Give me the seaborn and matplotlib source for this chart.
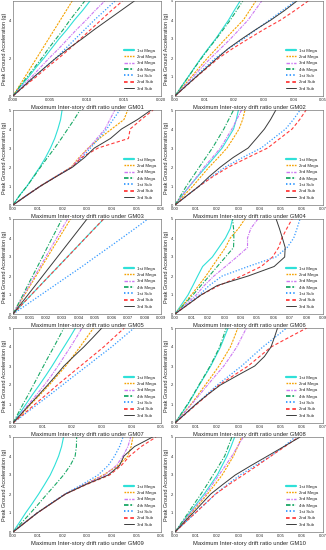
import numpy as np
import pandas as pd
import matplotlib
matplotlib.use("Agg")
import matplotlib.pyplot as plt
import seaborn as sns
from matplotlib.lines import Line2D
from matplotlib.ticker import FormatStrFormatter

# PGA levels (g)
pga = [0, 0.5, 1, 1.5, 2, 2.5, 3, 3.5, 4, 4.5, 5]

series = ["1st Mega", "2nd Mega", "3rd Mega", "4th Mega", "1st Sub", "2nd Sub", "3rd Sub"]

# max inter-story drift ratio, one list per series, for each ground motion
gm01 = {
    "1st Mega": [0, .0010, .0021, .0031, .0042, .0052, .0062, .0073, .0083, .0094, .0104],
    "2nd Mega": [0, .0008, .0016, .0024, .0032, .0040, .0048, .0056, .0064, .0072, .0080],
    "3rd Mega": [0, .0012, .0025, .0037, .0049, .0062, .0074, .0086, .0099, .0111, .0124],
    "4th Mega": [0, .0009, .0019, .0029, .0039, .0048, .0058, .0068, .0077, .0087, .0097],
    "1st Sub": [0, .0014, .0029, .0043, .0058, .0071, .0084, .0097, .0110, .0124, .0138],
    "2nd Sub": [0, .0015, .0031, .0046, .0062, .0077, .0091, .0105, .0119, .0133, .0148],
    "3rd Sub": [0, .0014, .0028, .0043, .0058, .0075, .0093, .0110, .0128, .0146, .0164],
}
gm02 = {
    "1st Mega": [0, .0022, .0044, .0066, .0088, .0112, .0137, .0159, .0181, .0200, .0220],
    "2nd Mega": [0, .0027, .0055, .0082, .0110, .0140, .0170, .0200, .0231, .0252, .0273],
    "3rd Mega": [0, .0030, .0060, .0090, .0121, .0154, .0187, .0217, .0247, .0270, .0293],
    "4th Mega": [0, .0022, .0045, .0067, .0090, .0114, .0139, .0163, .0187, .0208, .0229],
    "1st Sub": [0, .0034, .0068, .0102, .0137, .0182, .0231, .0275, .0319, .0363, .0407],
    "2nd Sub": [0, .0036, .0072, .0110, .0148, .0195, .0247, .0300, .0357, .0405, .0450],
    "3rd Sub": [0, .0035, .0071, .0107, .0143, .0180, .0225, .0273, .0324, .0370, .0412],
}
gm03 = {
    "1st Mega": [0, .0026, .0057, .0083, .0109, .0132, .0152, .0169, .0182, .0193, .0199],
    "2nd Mega": [0, .0055, .0111, .0174, .0236, .0268, .0305, .0350, .0400, .0450, .0465],
    "3rd Mega": [0, .0055, .0111, .0174, .0238, .0272, .0307, .0340, .0373, .0393, .0413],
    "4th Mega": [0, .0027, .0057, .0085, .0112, .0140, .0169, .0196, .0222, .0248, .0272],
    "1st Sub": [0, .0055, .0111, .0174, .0240, .0281, .0314, .0347, .0380, .0406, .0433],
    "2nd Sub": [0, .0055, .0112, .0175, .0240, .0278, .0345, .0468, .0475, .0520, .0568],
    "3rd Sub": [0, .0055, .0112, .0176, .0242, .0290, .0330, .0395, .0440, .0505, .0560],
}
gm04 = {
    "1st Mega": [0, .0034, .0069, .0107, .0146, .0185, .0223, .0250, .0277, .0290, .0300],
    "2nd Mega": [0, .0042, .0085, .0123, .0162, .0205, .0246, .0275, .0303, .0320, .0331],
    "3rd Mega": [0, .0034, .0069, .0104, .0138, .0177, .0215, .0242, .0269, .0292, .0315],
    "4th Mega": [0, .0027, .0054, .0085, .0115, .0146, .0177, .0204, .0231, .0254, .0277],
    "1st Sub": [0, .0057, .0115, .0175, .0238, .0320, .0408, .0465, .0523, .0560, .0592],
    "2nd Sub": [0, .0057, .0115, .0180, .0254, .0345, .0438, .0496, .0554, .0590, .0620],
    "3rd Sub": [0, .0057, .0115, .0162, .0215, .0275, .0346, .0385, .0423, .0452, .0477],
}
gm05 = {
    "1st Mega": [0, .00055, .00110, .00165, .00220, .00275, .00330, .00385, .00440, .00495, .00552],
    "2nd Mega": [0, .00035, .00070, .00105, .00140, .00175, .00210, .00245, .00280, .00315, .00350],
    "3rd Mega": [0, .00033, .00066, .00099, .00132, .00166, .00199, .00232, .00265, .00298, .00332],
    "4th Mega": [0, .00030, .00060, .00089, .00119, .00149, .00179, .00208, .00238, .00268, .00298],
    "1st Sub": [0, .00084, .00168, .00252, .00336, .00420, .00500, .00582, .00662, .00742, .00820],
    "2nd Sub": [0, .00055, .00110, .00165, .00220, .00276, .00331, .00386, .00441, .00496, .00550],
    "3rd Sub": [0, .00045, .00090, .00135, .00180, .00225, .00270, .00315, .00360, .00405, .00450],
}
gm06 = {
    "1st Mega": [0, .0040, .0079, .0109, .0138, .0168, .0227, .0267, .0307, .0336, .0350],
    "2nd Mega": [0, .0050, .0099, .0144, .0188, .0227, .0267, .0307, .0336, .0386, .0425],
    "3rd Mega": [0, .0065, .0129, .0178, .0237, .0307, .0376, .0441, .0441, .0461, .0504],
    "4th Mega": [0, .0055, .0109, .0158, .0208, .0257, .0307, .0356, .0358, .0356, .0350],
    "1st Sub": [0, .0074, .0148, .0208, .0287, .0445, .0613, .0682, .0722, .0742, .0760],
    "2nd Sub": [0, .0079, .0158, .0267, .0405, .0524, .0593, .0630, .0650, .0680, .0712],
    "3rd Sub": [0, .0079, .0158, .0257, .0445, .0603, .0667, .0670, .0653, .0635, .0615],
}
gm07 = {
    "1st Mega": [0, .0022, .0044, .0066, .0089, .0111, .0132, .0152, .0172, .0192, .0211],
    "2nd Mega": [0, .0031, .0061, .0092, .0122, .0150, .0178, .0202, .0226, .0249, .0272],
    "3rd Mega": [0, .0027, .0053, .0080, .0106, .0130, .0152, .0173, .0194, .0214, .0233],
    "4th Mega": [0, .0017, .0034, .0052, .0069, .0086, .0103, .0120, .0138, .0155, .0172],
    "1st Sub": [0, .0042, .0084, .0126, .0167, .0208, .0250, .0291, .0333, .0371, .0409],
    "2nd Sub": [0, .0038, .0075, .0113, .0150, .0189, .0228, .0267, .0306, .0341, .0376],
    "3rd Sub": [0, .0029, .0058, .0088, .0117, .0145, .0172, .0205, .0239, .0270, .0300],
}
gm08 = {
    "1st Mega": [0, .0031, .0062, .0089, .0115, .0142, .0169, .0192, .0215, .0233, .0251],
    "2nd Mega": [0, .0039, .0077, .0110, .0143, .0176, .0208, .0235, .0262, .0280, .0297],
    "3rd Mega": [0, .0040, .0080, .0117, .0154, .0192, .0231, .0262, .0292, .0315, .0338],
    "4th Mega": [0, .0030, .0060, .0087, .0113, .0140, .0166, .0189, .0211, .0227, .0242],
    "1st Sub": [0, .0050, .0100, .0150, .0200, .0258, .0315, .0365, .0415, .0472, .0528],
    "2nd Sub": [0, .0052, .0104, .0156, .0208, .0277, .0346, .0400, .0454, .0538, .0623],
    "3rd Sub": [0, .0050, .0100, .0155, .0215, .0295, .0377, .0423, .0454, .0470, .0485],
}
gm09 = {
    "1st Mega": [0, .0026, .0051, .0078, .0104, .0128, .0151, .0169, .0185, .0197, .0205],
    "2nd Mega": [0, .0049, .0098, .0155, .0212, .0290, .0366, .0426, .0466, .0479, .0486],
    "3rd Mega": [0, .0049, .0098, .0155, .0212, .0290, .0372, .0419, .0446, .0466, .0477],
    "4th Mega": [0, .0036, .0071, .0105, .0138, .0172, .0205, .0232, .0252, .0257, .0258],
    "1st Sub": [0, .0048, .0097, .0153, .0210, .0280, .0345, .0386, .0412, .0432, .0446],
    "2nd Sub": [0, .0049, .0098, .0155, .0213, .0298, .0392, .0439, .0473, .0520, .0580],
    "3rd Sub": [0, .0049, .0098, .0155, .0213, .0295, .0386, .0432, .0450, .0493, .0566],
}
gm10 = {
    "1st Mega": [0, .0034, .0069, .0103, .0138, .0169, .0200, .0223, .0246, .0265, .0282],
    "2nd Mega": [0, .0039, .0077, .0116, .0154, .0189, .0223, .0250, .0277, .0297, .0315],
    "3rd Mega": [0, .0037, .0073, .0110, .0146, .0177, .0208, .0239, .0269, .0296, .0323],
    "4th Mega": [0, .0031, .0062, .0092, .0123, .0152, .0180, .0208, .0235, .0252, .0269],
    "1st Sub": [0, .0048, .0096, .0144, .0192, .0248, .0308, .0380, .0454, .0515, .0569],
    "2nd Sub": [0, .0048, .0096, .0144, .0192, .0255, .0323, .0390, .0454, .0520, .0585],
    "3rd Sub": [0, .0042, .0085, .0127, .0169, .0226, .0285, .0360, .0438, .0515, .0592],
}

gm_names = ["GM01", "GM02", "GM03", "GM04", "GM05", "GM06", "GM07", "GM08", "GM09", "GM10"]
gm_data = [gm01, gm02, gm03, gm04, gm05, gm06, gm07, gm08, gm09, gm10]
x_max = [0.020, 0.05, 0.06, 0.07, 0.009, 0.09, 0.05, 0.07, 0.06, 0.07]
x_step = [0.005, 0.01, 0.01, 0.01, 0.001, 0.01, 0.01, 0.01, 0.01, 0.01]
x_fmt = ["%.3f", "%.2f", "%.2f", "%.2f", "%.3f", "%.2f", "%.2f", "%.2f", "%.2f", "%.2f"]

colors = {"1st Mega": "#2fe0d8", "2nd Mega": "#f5a300", "3rd Mega": "#cc77f2",
          "4th Mega": "#1aa866", "1st Sub": "#3399ff", "2nd Sub": "#ff3b3b",
          "3rd Sub": "#3a3a3a"}
styles = {"1st Mega": "-", "2nd Mega": (0, (2, 1)), "3rd Mega": (0, (3, 1, 1, 1)),
          "4th Mega": (0, (4, 1.5, 1, 1.5)), "1st Sub": (0, (1, 1.4)),
          "2nd Sub": (0, (3, 2)), "3rd Sub": "-"}
widths = {"1st Mega": 0.8, "2nd Mega": 0.8, "3rd Mega": 0.8, "4th Mega": 0.8,
          "1st Sub": 0.9, "2nd Sub": 0.8, "3rd Sub": 0.7}
leg_widths = {"1st Mega": 1.6, "2nd Mega": 1.0, "3rd Mega": 1.0, "4th Mega": 1.3,
              "1st Sub": 1.3, "2nd Sub": 1.3, "3rd Sub": 0.7}
leg_styles = {"1st Mega": "-", "2nd Mega": (0, (1.2, 0.8)), "3rd Mega": (0, (2.5, 1, 1, 1)),
              "4th Mega": (0, (2.5, 1, 1, 1)), "1st Sub": (0, (0.8, 1.2)),
              "2nd Sub": (0, (2, 1.5)), "3rd Sub": "-"}

sns.set_style("white")
plt.rcParams['font.family'] = ['Liberation Sans', 'DejaVu Sans']

fig = plt.figure(figsize=(3.26, 5.5), dpi=100)
W, H = 326, 550

handles = [Line2D([0], [0], color=colors[s], linestyle=leg_styles[s], linewidth=leg_widths[s])
           for s in series]

for i, (name, data) in enumerate(zip(gm_names, gm_data)):
    row, col = i // 2, i % 2
    left = 13 if col == 0 else 175
    top = 1 + 109 * row
    ax = fig.add_axes([left / W, 1 - (top + 95) / H, 148 / W, 95 / H])

    for s in series:
        sns.lineplot(x=data[s], y=pga, ax=ax, color=colors[s], linestyle=styles[s],
                     linewidth=widths[s], sort=False, estimator=None)

    ax.set_xlim(0, x_max[i])
    ax.set_ylim(0, 5)
    ax.set_xticks(np.arange(0, x_max[i] + x_step[i] / 2, x_step[i]))
    ax.xaxis.set_major_formatter(FormatStrFormatter(x_fmt[i]))
    if i == 0:
        ax.set_yticks([0, 2, 4])
    else:
        ax.set_yticks([0, 1, 2, 3, 4, 5])
    ax.tick_params(direction="in", length=1.5, width=0.4, labelsize=3.0, pad=1.2)
    for sp in ax.spines.values():
        sp.set_linewidth(0.4)
        sp.set_color("#555555")
    ax.set_xlabel("Maximum Inter-story drift ratio under " + name, fontsize=4.2, labelpad=2.5)
    ax.set_ylabel("Peak Ground Acceleration (g)", fontsize=4.0, labelpad=1.5)

    ax.legend(handles, series, loc="lower right", fontsize=3.2, frameon=False,
              handlelength=2.2, labelspacing=0.5, handletextpad=0.6,
              borderaxespad=0.8)

fig.savefig("out.png", dpi=100)
